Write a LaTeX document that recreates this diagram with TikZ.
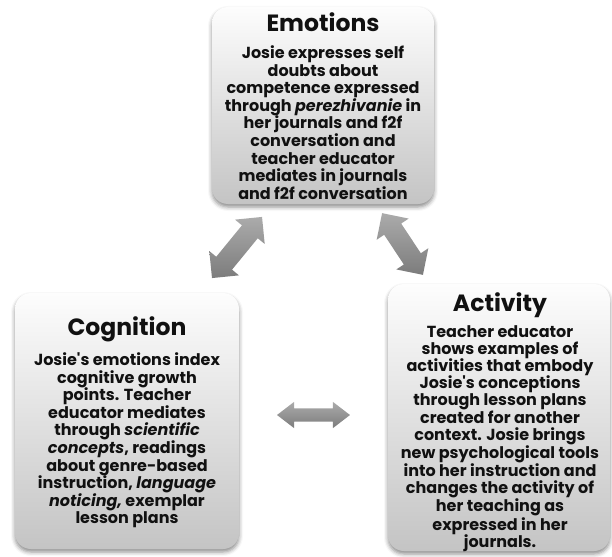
\documentclass[tikz,border=0pt]{standalone}
\usepackage{fontspec}
\newfontfamily\pop{Poppins}
\usetikzlibrary{shapes.arrows,shadows.blur}
\definecolor{boxtop}{HTML}{FDFDFD}
\definecolor{boxbot}{HTML}{C4C4C4}
\definecolor{arrtop}{HTML}{ABABAB}
\definecolor{arrbot}{HTML}{7C7C7C}
\definecolor{ink}{HTML}{111111}
\tikzset{
  panel/.style={rectangle, rounded corners=16pt, top color=boxtop, bottom color=boxbot,
    draw=none, inner sep=0pt,
    blur shadow={shadow xshift=0pt, shadow yshift=-3pt, shadow blur radius=4pt, shadow opacity=45}},
  ttl/.style={font=\pop\bfseries\fontsize{23.5}{28}\selectfont, text=ink, inner sep=0pt, anchor=base},
  body/.style={font=\pop\bfseries\fontsize{16}{17.6}\selectfont, text=ink, align=center, inner sep=0pt, anchor=north},
  tightbody/.style={body, font=\pop\bfseries\fontsize{16}{17.1}\selectfont},
  darrow/.style={double arrow, top color=arrtop, bottom color=arrbot, draw=none, inner xsep=0pt},
}
\begin{document}
\begin{tikzpicture}[x=1pt,y=-1pt]
\useasboundingbox (0,0) rectangle (612,556);
% panels
\node[panel, minimum width=222pt, minimum height=197pt] (emo) at (323,105.5) {};
\node[panel, minimum width=224pt, minimum height=256pt] (cog) at (127,421) {};
\node[panel, minimum width=222pt, minimum height=267pt] (act) at (499,417.5) {};
% titles
\node[ttl] (emoT) at (323,32) {Emotions};
\node[ttl] (cogT) at (127,335) {Cognition};
\node[ttl] (actT) at (500,311) {Activity};
% bodies
\node[body] (emoB) at (323,45.5) {Josie expresses self\\ doubts about\\ competence expressed\\ through \textit{perezhivanie} in\\ her journals and f2f\\ conversation and\\ teacher educator\\ mediates in journals\\ and f2f conversation};
\node[body] (cogB) at (127,352.5) {Josie's emotions index\\ cognitive growth\\ points. Teacher\\ educator mediates\\ through \textit{scientific}\\ \textit{concepts}, readings\\ about genre-based\\ instruction, \textit{language}\\ \textit{noticing,} exemplar\\ lesson plans};
\node[tightbody] (actB) at (500,325.5) {Teacher educator\\ shows examples of\\ activities that embody\\ Josie's conceptions\\ through lesson plans\\ created for another\\ context. Josie brings\\ new psychological tools\\ into her instruction and\\ changes the activity of\\ her teaching as\\ expressed in her\\ journals.};
% arrows
\node[darrow, inner ysep=10pt, double arrow head extend=9pt, minimum height=79pt, rotate=50.7] (a1) at (237,247.5) {};
\node[darrow, inner ysep=10pt, double arrow head extend=9pt, minimum height=74pt, rotate=-56.5] (a2) at (402.5,244) {};
\node[darrow, inner ysep=6.5pt, double arrow head extend=6.5pt, double arrow tip angle=75, minimum height=73pt] (a3) at (313.5,415) {};
\end{tikzpicture}
\end{document}
